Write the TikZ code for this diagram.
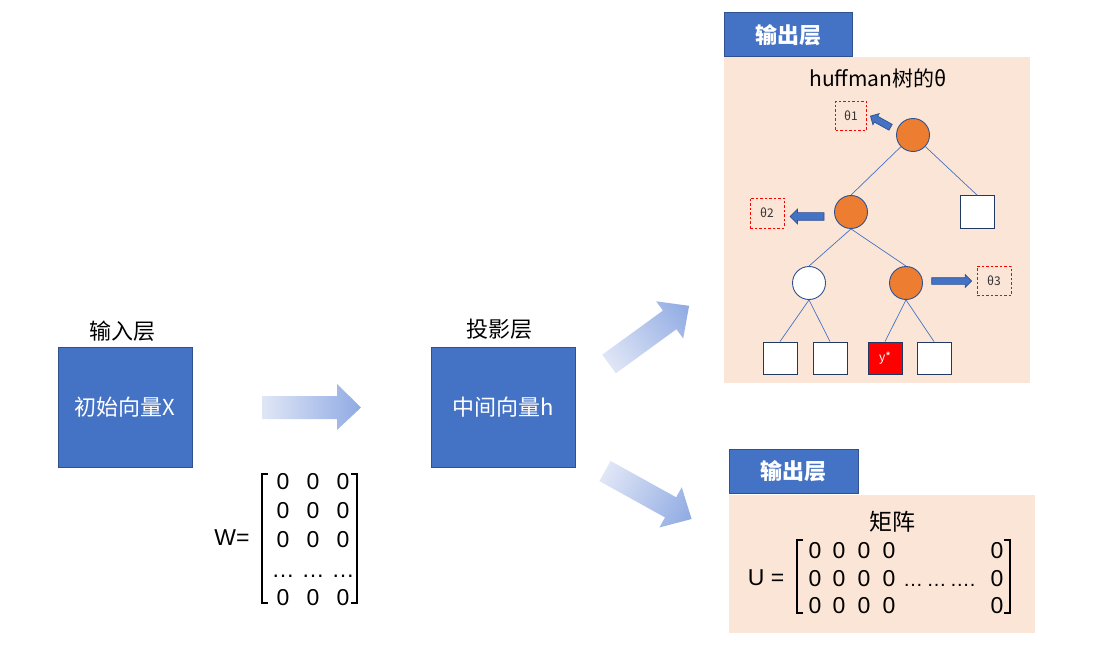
\documentclass[tikz,border=0pt]{standalone}
\usepackage{fontspec}
\setmainfont{Noto Sans CJK SC}
\newfontfamily\numf{Liberation Sans}
\usetikzlibrary{shapes.arrows}
\definecolor{boxblue}{HTML}{4472C4}
\definecolor{boxborder}{HTML}{2F528F}
\definecolor{peach}{HTML}{FBE5D6}
\definecolor{orangec}{HTML}{ED7D31}
\definecolor{navy}{HTML}{203864}
\definecolor{arrL}{HTML}{E0E6F6}
\definecolor{arrR}{HTML}{8FAAE3}
\begin{document}
\begin{tikzpicture}[x=1pt,y=-1pt,
  bluebox/.style={draw=boxborder,fill=boxblue,line width=1pt,text=white,font=\fontsize{22}{26}\selectfont,inner sep=0pt},
  hdr/.style={draw=boxborder,fill=boxblue,line width=1pt,text=white,font=\fontsize{22}{26}\selectfont\bfseries,inner sep=0pt},
  lbl/.style={font=\fontsize{22}{26}\selectfont,inner sep=0pt},
  panel/.style={fill=peach},
  onode/.style={circle,draw=boxborder,fill=orangec,line width=0.9pt,minimum size=33pt,inner sep=0pt},
  wnode/.style={circle,draw=boxborder,fill=white,line width=0.9pt,minimum size=33pt,inner sep=0pt},
  leaf/.style={draw=navy,fill=white,line width=0.9pt,minimum width=34pt,minimum height=32pt,inner sep=0pt},
  treeline/.style={draw=boxblue,line width=0.7pt},
  thbox/.style={draw=red,dashed,dash pattern=on 2.5pt off 2pt,line width=0.8pt,inner sep=0pt,font=\fontsize{12}{14}\selectfont,text=black!80},
  blockarr/.style={single arrow,draw=boxborder,fill=boxblue,line width=0.7pt,inner sep=3pt,minimum width=0pt,single arrow head extend=3pt,single arrow head indent=0pt},
  bigarr/.style={left color=arrL,right color=arrR,draw=none},
  mnum/.style={font=\numf\fontsize{23}{25}\selectfont,inner sep=0pt,anchor=base},
  brk/.style={line width=1.4pt}]
\useasboundingbox (0,0) rectangle (1098,663);

% left part
\node[lbl] (lin) at (122,331) {输入层};
\node[bluebox,minimum width=134pt,minimum height=120pt] (bx1) at (125,407) {初始向量X};
\node[lbl] (lproj) at (499,329) {投影层};
\node[bluebox,minimum width=144pt,minimum height=120pt] (bx2) at (503,407) {中间向量h};

% horizontal big arrow
\shade[bigarr] (262,396) -- (337,396) -- (337,384) -- (361,407.5) -- (337,430) -- (337,419) -- (262,419) -- cycle;
% diagonal big arrows
\begin{scope}[transform canvas={shift={(609,364)},rotate=36}]
\shade[bigarr] (0,-11.5) -- (75,-11.5) -- (75,-23) -- (99,0) -- (75,23) -- (75,11.5) -- (0,11.5) -- cycle;
\end{scope}
\begin{scope}[transform canvas={shift={(605,471)},rotate=-29}]
\shade[bigarr] (0,-11.5) -- (75,-11.5) -- (75,-23) -- (99,0) -- (75,23) -- (75,11.5) -- (0,11.5) -- cycle;
\end{scope}

% W matrix
\node[font=\numf\fontsize{23}{25}\selectfont,inner sep=0pt] (wlab) at (232,538) {W=};
\draw[brk] (268,474) -- (262,474) -- (262,603) -- (268,603);
\draw[brk] (351,474) -- (357,474) -- (357,603) -- (351,603);
\foreach \yy in {489,518,547,605}{
  \node[mnum] at (283,\yy) {0};
  \node[mnum] at (313,\yy) {0};
  \node[mnum] at (343,\yy) {0};
}
\node[mnum] at (283,577) {…};
\node[mnum] at (313,577) {…};
\node[mnum] at (343,577) {…};

% top output layer
\fill[panel] (724,57) rectangle (1030,383);
\node[hdr,minimum width=128pt,minimum height=44pt] (h1) at (788.5,35) {输出层};
\node[font=\fontsize{21}{25}\selectfont,inner sep=0pt] (htitle) at (878,78) {huffman树的θ};

\node[onode] (root) at (913,135) {};
\node[onode] (c1) at (851,212) {};
\node[leaf,minimum height=33pt] (rleaf) at (977,212) {};
\node[wnode] (w) at (809,283) {};
\node[onode] (o) at (906,283) {};
\node[leaf] (l1) at (780,358) {};
\node[leaf] (l2) at (830,358) {};
\node[leaf,fill=red,text=white,font=\fontsize{12}{14}\selectfont] (l3) at (885,358) {y*};
\node[leaf] (l4) at (934,358) {};

\draw[treeline] (root) -- (c1.north);
\draw[treeline] (root) -- (rleaf.north);
\draw[treeline] (c1.south) -- (w.north);
\draw[treeline] (c1.south) -- (o.north);
\draw[treeline] (w.south) -- (l1.north);
\draw[treeline] (w.south) -- (l2.north);
\draw[treeline] (o.south) -- (l3.north);
\draw[treeline] (o.south) -- (l4.north);

\node[thbox,minimum width=31pt,minimum height=29pt] (t1) at (851,116) {θ1};
\node[thbox,minimum width=34pt,minimum height=30pt] (t2) at (767,213) {θ2};
\node[thbox,minimum width=34pt,minimum height=29pt] (t3) at (994,281) {θ3};

\node[blockarr,minimum height=23pt,rotate=151] (a1) at (882,122.5) {};
\node[blockarr,minimum height=34pt,rotate=180,inner sep=3.5pt,single arrow head extend=3.5pt] (a2) at (809,216.5) {};
\node[blockarr,minimum height=40pt] (a3) at (950,281) {};

% bottom output layer
\fill[panel] (729,495) rectangle (1035,633);
\node[hdr,minimum width=129pt,minimum height=44pt] (h2) at (793.5,471) {输出层};
\node[font=\fontsize{23}{27}\selectfont,inner sep=0pt] (mat) at (892,522) {矩阵};
\node[font=\numf\fontsize{23}{25}\selectfont,inner sep=0pt] (ulab) at (766,578) {U =};
\draw[brk] (803,540) -- (797,540) -- (797,613) -- (803,613);
\draw[brk] (1004,540) -- (1010,540) -- (1010,613) -- (1004,613);
\foreach \yy in {558,586,613}{
  \node[mnum] at (815,\yy) {0};
  \node[mnum] at (839,\yy) {0};
  \node[mnum] at (864,\yy) {0};
  \node[mnum] at (889,\yy) {0};
  \node[mnum] at (997,\yy) {0};
}
\node[mnum,anchor=base west,font=\numf\fontsize{20}{24}\selectfont] (udots) at (903,586) {…\,…\,….};
\end{tikzpicture}
\end{document}
